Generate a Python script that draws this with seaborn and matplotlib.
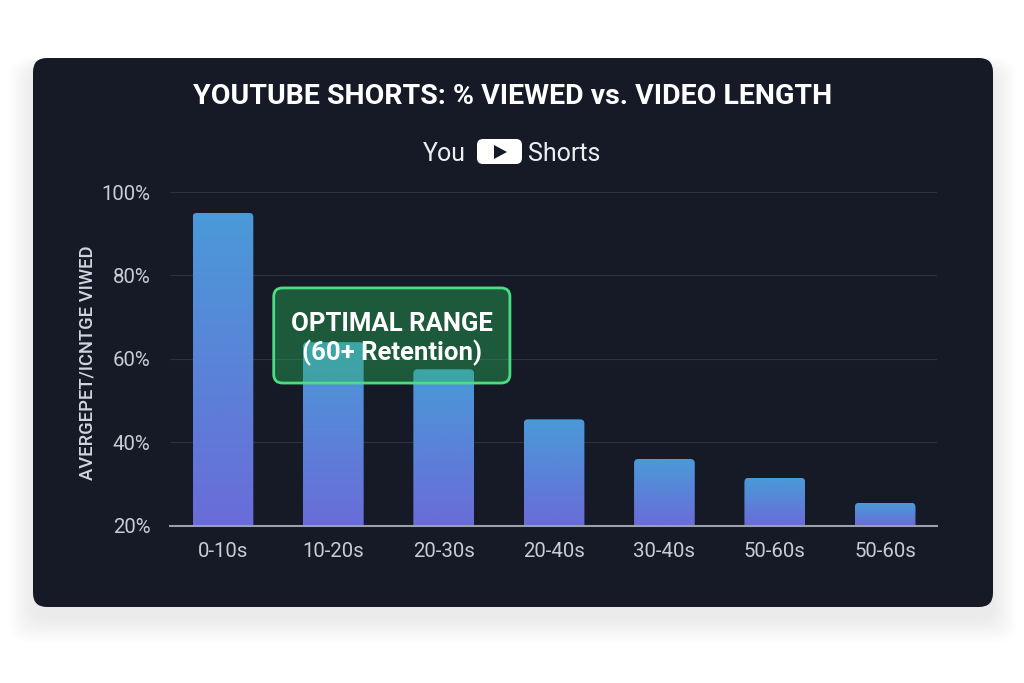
import numpy as np
import pandas as pd
import matplotlib
matplotlib.use("Agg")
import matplotlib.pyplot as plt
import seaborn as sns
from matplotlib.patches import FancyBboxPatch, Polygon
from matplotlib.colors import LinearSegmentedColormap

# data
durations = ["0-10s", "10-20s", "20-30s", "20-40s", "30-40s", "50-60s", "50-60s"]
pct_viewed = [95, 64, 57.5, 45.5, 36, 31.5, 25.5]
y_ticks = [20, 40, 60, 80, 100]

title = "YOUTUBE SHORTS: % VIEWED vs. VIDEO LENGTH"
y_label = "AVERGEPET/ICNTGE VIWED"
callout = "OPTIMAL RANGE\n(60+ Retention)"

CARD = "#161a26"
TICK = "#c9ccd3"

df = pd.DataFrame({"slot": range(len(durations)), "pct": pct_viewed})

sns.set_theme(style="dark")
plt.rcParams["font.family"] = ["Roboto", "DejaVu Sans"]

fig = plt.figure(figsize=(10.24, 6.83), dpi=100)
fig.patch.set_facecolor("white")

# background layer in pixel units (card, shadow, header)
bg = fig.add_axes([0, 0, 1, 1])
bg.set_xlim(0, 1024)
bg.set_ylim(683, 0)
bg.axis("off")

for i in range(20):
    pad = 2 + i * 2.0
    bg.add_patch(FancyBboxPatch((33 - pad * 0.6, 58 + 12 - pad * 0.3), 960 + pad * 1.2, 549 + pad * 0.9,
                                boxstyle="round,pad=0,rounding_size=20",
                                fc="black", ec="none", alpha=0.005))
bg.add_patch(FancyBboxPatch((33, 58), 960, 549, boxstyle="round,pad=0,rounding_size=14",
                            fc=CARD, ec="none"))

bg.text(513, 96, title, ha="center", va="center", fontsize=20.5, weight="bold", color="white")

# "You [>] Shorts" logo
bg.text(466, 154, "You", ha="right", va="center", fontsize=18, color="#eceef2")
bg.add_patch(FancyBboxPatch((477, 139), 45, 25, boxstyle="round,pad=0,rounding_size=6",
                            fc="white", ec="none"))
bg.add_patch(Polygon([(494, 145), (494, 159), (507, 152)], closed=True, fc=CARD, ec="none"))
bg.text(528, 154, "Shorts", ha="left", va="center", fontsize=18, color="#eceef2")

bg.text(87, 363, y_label, rotation=90, ha="center", va="center", fontsize=13.2,
        weight="medium", color="#d3d6dc")

# main chart
ax = fig.add_axes([170 / 1024, 1 - 525.7 / 683, (937 - 170) / 1024, (525.7 - 192) / 683])
ax.set_facecolor("none")
sns.barplot(data=df, x="slot", y="pct", ax=ax, width=0.55, color="#4a96d8", saturation=1)

cmap = LinearSegmentedColormap.from_list("bar", ["#6a6cd8", "#4a9ad8"])
grad = np.linspace(0, 1, 256).reshape(-1, 1)
for p in list(ax.patches):
    x0, w, h = p.get_x(), p.get_width(), p.get_height()
    p.set_visible(False)
    shape = FancyBboxPatch((x0, 0), w, h, boxstyle="round,pad=0,rounding_size=0.04",
                           mutation_aspect=26, fc="none", ec="none", transform=ax.transData)
    ax.add_patch(shape)
    im = ax.imshow(grad, cmap=cmap, origin="lower", extent=(x0, x0 + w, 20, h),
                   aspect="auto", zorder=2)
    im.set_clip_path(shape)

ax.set_xlim(-0.48, 6.47)
ax.set_ylim(20, 100)
ax.set_yticks(y_ticks, labels=[f"{v}%" for v in y_ticks])
ax.set_xticks(range(len(durations)), labels=durations)
ax.set_xlabel("")
ax.set_ylabel("")
ax.yaxis.grid(True, color="#2c3242", lw=0.8)
ax.xaxis.grid(False)
ax.set_axisbelow(True)
for side in ["top", "right", "left"]:
    ax.spines[side].set_visible(False)
ax.spines["bottom"].set_color("#9aa0aa")
ax.spines["bottom"].set_linewidth(1.5)
ax.spines["bottom"].set_zorder(3)
ax.tick_params(axis="both", length=0, labelcolor=TICK, labelsize=14.7)
ax.tick_params(axis="y", pad=14)
ax.tick_params(axis="x", pad=12)

# optimal range callout
ax.add_patch(FancyBboxPatch((0.46, 54.2), 2.14, 22.8, boxstyle="round,pad=0,rounding_size=0.08",
                            mutation_aspect=26, fc=(0.16, 0.73, 0.36, 0.4), ec="#4ade80",
                            lw=2, zorder=5))
ax.text(1.53, 64.7, callout, ha="center", va="center", color="white", fontsize=18.5,
        weight="bold", linespacing=1.2, zorder=6)

fig.savefig("out.png", dpi=100, facecolor="white")
